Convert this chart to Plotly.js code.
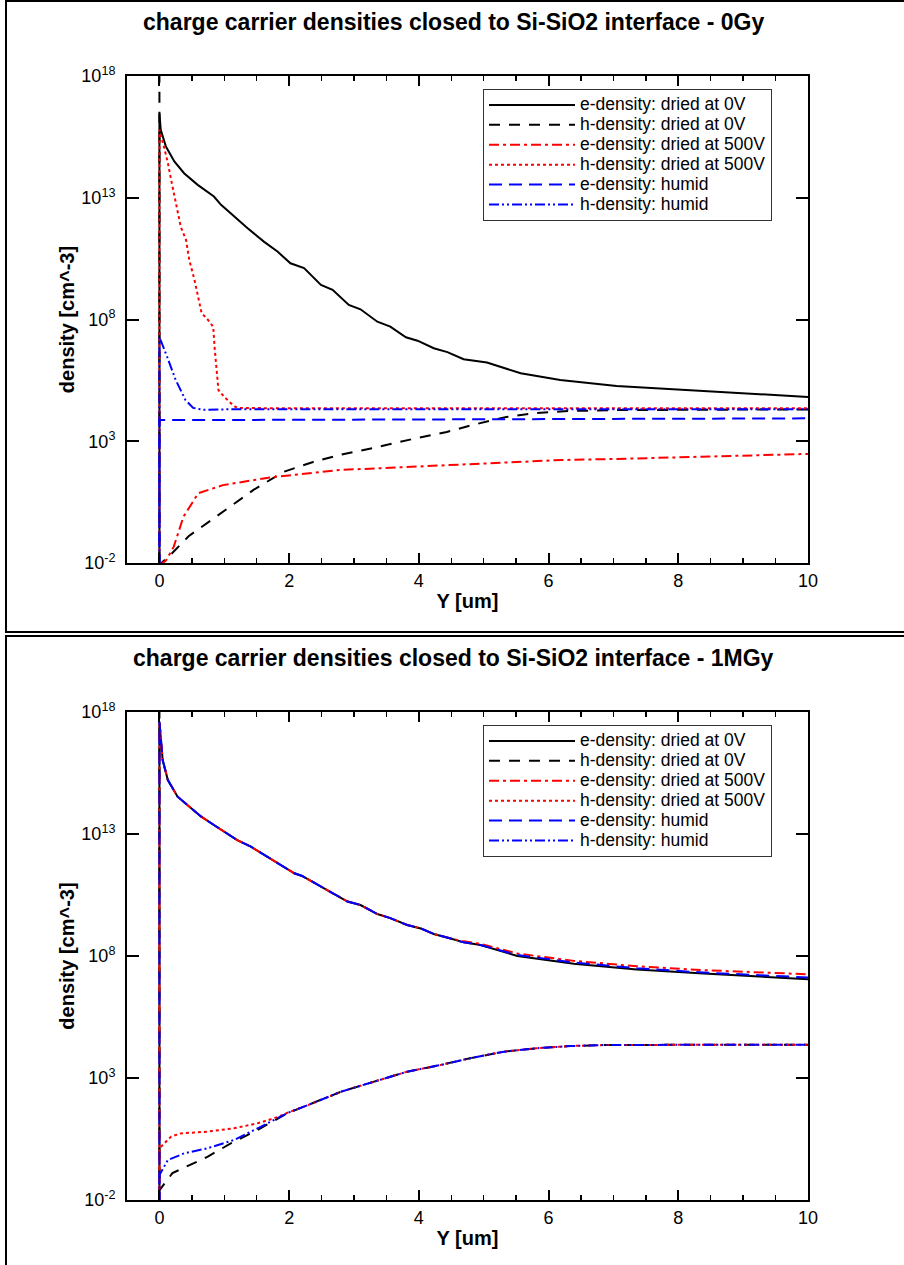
<!DOCTYPE html>
<html><head><meta charset="utf-8">
<script src="https://cdn.plot.ly/plotly-3.0.1.min.js"></script>
<style>html,body{margin:0;padding:0;background:#fff}#chart{width:904px;height:1265px}</style>
</head><body><div id="chart"></div>
<script>
// ---------- titles / labels ----------
const panelTitles = ["charge carrier densities closed to Si-SiO2 interface - 0Gy",
                     "charge carrier densities closed to Si-SiO2 interface - 1MGy"];
const xTitle = "Y [um]";
const yTitle = "density [cm^-3]";
const seriesNames = ["e-density: dried at 0V", "h-density: dried at 0V",
                     "e-density: dried at 500V", "h-density: dried at 500V",
                     "e-density: humid", "h-density: humid"];
const yTickVals = [1e-2, 1e3, 1e8, 1e13, 1e18];
const yTickText = ["10<sup>-2</sup>", "10<sup>3</sup>", "10<sup>8</sup>", "10<sup>13</sup>", "10<sup>18</sup>"];

// ---------- top panel (0Gy) ----------
const top_eDry0V_x = [0, 0, 0.02, 0.1, 0.23, 0.38, 0.59, 0.84, 0.95, 1.15, 1.36, 1.61, 1.82, 2.02, 2.23, 2.49, 2.67, 2.92, 3.10, 3.36, 3.56, 3.80, 3.98, 4.23, 4.44, 4.69, 4.95, 5.05, 5.57, 6.18, 7.05, 7.88, 8.9, 10];
const top_eDry0V_y = [1e-3, 2.95e16, 6.17e15, 1.26e15, 3.09e14, 1.02e14, 3.39e13, 1.12e13, 5.13e12, 1.70e12, 5.62e11, 1.58e11, 6.17e10, 2.04e10, 1.29e10, 2.63e9, 1.66e9, 3.98e8, 2.63e8, 8.13e7, 5.13e7, 1.86e7, 1.35e7, 6.61e6, 4.57e6, 2.34e6, 1.86e6, 1.70e6, 6.17e5, 3.31e5, 1.86e5, 1.38e5, 1.0e5, 6.61e4];

const top_hDry0V_x = [0, 0, 0.03, 0.17, 0.45, 0.74, 1.09, 1.45, 1.91, 2.37, 2.78, 3.29, 3.97, 4.43, 4.83, 5.35, 5.82, 6.3, 7, 8, 9, 10];
const top_hDry0V_y = [1e19, 5e-3, 1e-2, 2.14e-2, 0.126, 0.437, 2.0, 10, 55, 141, 275, 525, 1350, 2400, 4680, 1.0e4, 1.45e4, 1.74e4, 1.9e4, 2.0e4, 2.0e4, 2.0e4];

const top_eDry500V_x = [0, 0.1, 0.22, 0.37, 0.6, 0.98, 1.75, 2.78, 3.8, 5.0, 5.8, 6.2, 7, 8, 9, 10];
const top_eDry500V_y = [8e-3, 1.26e-2, 4.57e-2, 0.79, 7.41, 15.8, 33.9, 66.1, 87.1, 126, 158, 170, 186, 214, 251, 302];

const top_hDry500V_x = [0, 0, 0.07, 0.13, 0.18, 0.26, 0.33, 0.41, 0.46, 0.54, 0.6, 0.65, 0.75, 0.83, 0.85, 0.88, 0.91, 1.0, 1.13, 1.2, 2, 4, 6, 8, 10];
const top_hDry500V_y = [1e-3, 6.17e15, 1.23e15, 2.69e14, 5.5e13, 4.27e12, 6.31e11, 1.86e11, 2.82e10, 4.27e9, 8.51e8, 1.86e8, 9.55e7, 5.01e7, 7.41e6, 6.31e5, 1.26e5, 6.61e4, 3.09e4, 2.34e4, 2.24e4, 2.24e4, 2.24e4, 2.24e4, 2.24e4];

const top_eHumid_x = [0, 0, 2, 4, 6, 8, 10];
const top_eHumid_y = [1e-3, 7410, 7590, 7940, 8320, 8510, 8710];

const top_hHumid_x = [0, 0, 0.12, 0.25, 0.4, 0.52, 0.68, 1, 2, 4, 6, 8, 10];
const top_hHumid_y = [1e-3, 1.91e7, 2.88e6, 3.31e5, 5.01e4, 2.34e4, 1.95e4, 2.04e4, 2.04e4, 2.04e4, 2.04e4, 2.04e4, 2.04e4];

// ---------- bottom panel (1MGy) ----------
const bot_e_x = [0, 0, 0.05, 0.13, 0.28, 0.43, 0.64, 0.84, 1.0, 1.2, 1.41, 1.66, 1.87, 2.08, 2.2, 2.49, 2.64, 2.9, 3.1, 3.36, 3.56, 3.82, 4.03, 4.23, 4.49, 4.69, 4.95, 5.52, 6.39, 7.36, 8.39, 10];
const bot_eDry0V_y = [1e-3, 3.98e17, 1.07e16, 1.62e15, 3.39e14, 1.55e14, 5.25e13, 2.34e13, 1.26e13, 5.62e12, 3.02e12, 1.17e12, 5.37e11, 2.45e11, 1.91e11, 6.92e10, 4.37e10, 1.70e10, 1.23e10, 5.25e9, 3.55e9, 1.86e9, 1.35e9, 7.94e8, 5.25e8, 3.63e8, 2.82e8, 1.0e8, 4.79e7, 2.82e7, 1.91e7, 1.12e7];
const bot_eDry500V_y = [1e-3, 3.98e17, 1.07e16, 1.62e15, 3.39e14, 1.55e14, 5.25e13, 2.34e13, 1.26e13, 5.62e12, 3.02e12, 1.17e12, 5.37e11, 2.45e11, 1.91e11, 6.92e10, 4.37e10, 1.70e10, 1.23e10, 5.25e9, 3.55e9, 1.86e9, 1.35e9, 7.94e8, 5.25e8, 3.98e8, 3.16e8, 1.26e8, 6.31e7, 3.8e7, 2.63e7, 1.78e7];
const bot_eHumid_y = [1e-3, 3.98e17, 1.07e16, 1.62e15, 3.39e14, 1.55e14, 5.25e13, 2.34e13, 1.26e13, 5.62e12, 3.02e12, 1.17e12, 5.37e11, 2.45e11, 1.91e11, 6.92e10, 4.37e10, 1.70e10, 1.23e10, 5.25e9, 3.55e9, 1.86e9, 1.35e9, 7.94e8, 5.25e8, 3.63e8, 2.82e8, 1.10e8, 5.37e7, 3.16e7, 2.09e7, 1.32e7];

const bot_hDry0V_x = [0, 0, 0.2, 0.74, 1.1, 1.51, 1.97, 2.29, 2.8, 3.31, 3.82, 4.33, 4.79, 5.31, 5.82, 6.33, 6.85, 8, 10];
const bot_hDry0V_y = [1e19, 2.5e-2, 0.126, 0.589, 2.09, 7.41, 35.5, 77.6, 275, 708, 1820, 3390, 6460, 1.2e4, 1.66e4, 2.04e4, 2.24e4, 2.29e4, 2.29e4];
const bot_hDry500V_x = [0, 0, 0.18, 0.33, 0.74, 1.15, 1.51, 1.77, 2.02, 2.29, 2.8, 3.31, 3.82, 4.33, 4.79, 5.31, 5.82, 6.33, 6.85, 8, 10];
const bot_hDry500V_y = [1e-3, 1.32, 3.98, 5.37, 6.31, 8.71, 13.8, 22.4, 41.7, 77.6, 275, 708, 1820, 3390, 6460, 1.2e4, 1.66e4, 2.04e4, 2.24e4, 2.29e4, 2.29e4];
const bot_hHumid_x = [0, 0, 0.13, 0.38, 0.74, 1.15, 1.56, 2.02, 2.29, 2.8, 3.31, 3.82, 4.33, 4.79, 5.31, 5.82, 6.33, 6.85, 8, 10];
const bot_hHumid_y = [1e-3, 0.105, 0.437, 0.813, 1.32, 2.88, 10, 41.7, 77.6, 275, 708, 1820, 3390, 6460, 1.2e4, 1.66e4, 2.04e4, 2.24e4, 2.29e4, 2.29e4];

// ---------- styles ----------
const styles = [
  {color: "#000000", dash: "solid"},
  {color: "#000000", dash: "11px,9px"},
  {color: "#ff0000", dash: "10px,4px,3px,4px"},
  {color: "#ff0000", dash: "3px,3px"},
  {color: "#0000ff", dash: "13px,7px"},
  {color: "#0000ff", dash: "10px,3px,2px,3px,2px,3px"}
];

const topSeries = [[top_eDry0V_x, top_eDry0V_y], [top_hDry0V_x, top_hDry0V_y],
                   [top_eDry500V_x, top_eDry500V_y], [top_hDry500V_x, top_hDry500V_y],
                   [top_eHumid_x, top_eHumid_y], [top_hHumid_x, top_hHumid_y]];
const botSeries = [[bot_e_x, bot_eDry0V_y], [bot_hDry0V_x, bot_hDry0V_y],
                   [bot_e_x, bot_eDry500V_y], [bot_hDry500V_x, bot_hDry500V_y],
                   [bot_e_x, bot_eHumid_y], [bot_hHumid_x, bot_hHumid_y]];

const legendLabel = name => '<span style="font-size:17.5px">' + name + '</span>';

const traces = [];
topSeries.forEach((s, i) => traces.push({
  x: s[0], y: s[1], type: "scatter", mode: "lines", name: legendLabel(seriesNames[i]),
  xaxis: "x", yaxis: "y", legend: "legend",
  line: {color: styles[i].color, dash: styles[i].dash, width: 2}
}));
botSeries.forEach((s, i) => traces.push({
  x: s[0], y: s[1], type: "scatter", mode: "lines", name: legendLabel(seriesNames[i]),
  xaxis: "x2", yaxis: "y2", legend: "legend2",
  line: {color: styles[i].color, dash: styles[i].dash, width: 2}
}));

const FONT = "Liberation Sans, Arial, sans-serif";
const W = 904, H = 1265;
const px = v => v / W, py = v => 1 - v / H;

function xAxis(anchor, title) {
  return {
    anchor: anchor, domain: [px(127), px(808)], range: [-0.5, 10],
    tick0: 0, dtick: 2, ticks: "inside", ticklen: 10, tickwidth: 2, tickcolor: "#000",
    minor: {dtick: 0.5, ticks: "inside", ticklen: 5, tickwidth: 1.5, tickcolor: "#000", showgrid: false},
    showline: true, linewidth: 2, linecolor: "#000", mirror: "allticks",
    showgrid: false, zeroline: false,
    tickfont: {family: FONT, size: 18, color: "#000"},
    title: {text: title, standoff: 4, font: {family: FONT, size: 20, color: "#000", weight: "bold"}}
  };
}
function yAxis(anchor, dom, title) {
  return {
    anchor: anchor, domain: dom, type: "log", range: [-2, 18],
    tickmode: "array", tickvals: yTickVals, ticktext: yTickText,
    ticks: "inside", ticklen: 12, tickwidth: 2, tickcolor: "#000",
    showline: true, linewidth: 2, linecolor: "#000", mirror: "allticks",
    showgrid: false, zeroline: false, ticklabelstandoff: 6,
    tickfont: {family: FONT, size: 18, color: "#000"},
    title: {text: title, standoff: 1, font: {family: FONT, size: 20, color: "#000", weight: "bold"}}
  };
}
function legendAt(yTop) {
  return {
    x: px(483), y: py(yTop), xanchor: "left", yanchor: "top",
    bgcolor: "#ffffff", bordercolor: "#333", borderwidth: 1,
    font: {family: FONT, size: 13, color: "#000"},
    itemwidth: 86, tracegroupgap: 0
  };
}

const layout = {
  width: W, height: H, margin: {l: 0, r: 0, t: 0, b: 0},
  paper_bgcolor: "#fff", plot_bgcolor: "#fff",
  font: {family: FONT, color: "#000"},
  xaxis: xAxis("y", xTitle),
  yaxis: yAxis("x", [py(563), py(76)], yTitle),
  xaxis2: xAxis("y2", xTitle),
  yaxis2: yAxis("x2", [py(1200), py(712)], yTitle),
  legend: legendAt(89),
  legend2: legendAt(725),
  showlegend: true,
  annotations: [
    {text: panelTitles[0], xref: "paper", yref: "paper", x: px(454), y: py(22), xanchor: "center", yanchor: "middle",
     showarrow: false, font: {family: FONT, size: 23, color: "#000", weight: "bold"}},
    {text: panelTitles[1], xref: "paper", yref: "paper", x: px(454), y: py(658), xanchor: "center", yanchor: "middle",
     showarrow: false, font: {family: FONT, size: 23, color: "#000", weight: "bold"}}
  ],
  shapes: [
    {type: "rect", xref: "paper", yref: "paper", x0: px(6), x1: 1.02, y0: py(632), y1: py(1), line: {color: "#000", width: 2}},
    {type: "rect", xref: "paper", yref: "paper", x0: px(6), x1: 1.02, y0: -0.02, y1: py(636), line: {color: "#000", width: 2}}
  ]
};

Plotly.newPlot("chart", traces, layout, {displayModeBar: false, staticPlot: true});
</script></body></html>
